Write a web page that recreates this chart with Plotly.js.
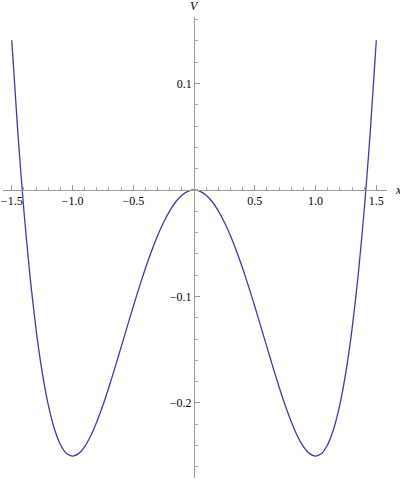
<!DOCTYPE html>
<html>
<head>
<meta charset="utf-8">
<script src="https://cdn.plot.ly/plotly-3.0.1.min.js"></script>
<style>
  html, body { margin: 0; padding: 0; background: #fff; }
  #plot { width: 400px; height: 480px; }
</style>
</head>
<body>
<div id="plot"></div>
<script>
// values (right half; the curve is mirrored about x = 0)
var xHalf = [0, 0.05, 0.1, 0.15, 0.2, 0.25, 0.3, 0.35, 0.4, 0.45, 0.5, 0.55, 0.6, 0.65, 0.7, 0.75,
             0.8, 0.85, 0.9, 0.95, 1.0, 1.05, 1.1, 1.15, 1.2, 1.25, 1.3, 1.35, 1.4, 1.45, 1.5];
var vHalf = [0, -0.0013, -0.0050, -0.0111, -0.0196, -0.0303, -0.0430, -0.0575, -0.0736, -0.0910, -0.1094, -0.1284, -0.1476, -0.1666, -0.1850, -0.2022,
             -0.2176, -0.2308, -0.2410, -0.2476, -0.25, -0.2474, -0.2390, -0.2240, -0.2016, -0.1709, -0.1310, -0.0809, -0.0196, 0.0539, 0.1406];

var xVals = xHalf.slice(1).reverse().map(function (v) { return -v; }).concat(xHalf);
var vVals = vHalf.slice(1).reverse().concat(vHalf);

var xTicks = [-1.5, -1.0, -0.5, 0.5, 1.0, 1.5];
var xTickText = ['\u22121.5', '\u22121.0', '\u22120.5', '0.5', '1.0', '1.5'];
var yTicks = [-0.2, -0.1, 0.1];
var yTickText = ['\u22120.2', '\u22120.1', '0.1'];

var xRange = [-1.572, 1.588];
var yRange = [-0.2705, 0.1624];

var trace = {
  x: xVals,
  y: vVals,
  mode: 'lines',
  type: 'scatter',
  line: { color: 'rgb(61,61,153)', width: 1.3, shape: 'spline', smoothing: 0.6 },
  hoverinfo: 'none'
};

var tickFont = { family: 'Liberation Serif, Times New Roman, serif', size: 12, color: '#000' };

var layout = {
  width: 400,
  height: 480,
  margin: { l: 3, r: 13, t: 17, b: 2 },
  paper_bgcolor: '#fff',
  plot_bgcolor: '#fff',
  showlegend: false,
  xaxis: {
    range: xRange,
    anchor: 'free',
    position: (0 - yRange[0]) / (yRange[1] - yRange[0]),
    showgrid: false,
    zeroline: false,
    showline: true,
    linecolor: '#999',
    linewidth: 1,
    ticks: 'inside',
    ticklen: 5,
    tickcolor: '#999',
    tickvals: xTicks,
    ticktext: xTickText,
    tickfont: tickFont,
    minor: { tickmode: 'linear', tick0: 0, dtick: 0.1, ticks: 'inside', ticklen: 3, tickcolor: '#aaa', showgrid: false }
  },
  yaxis: {
    range: yRange,
    anchor: 'free',
    position: (0 - xRange[0]) / (xRange[1] - xRange[0]),
    showgrid: false,
    zeroline: false,
    showline: true,
    linecolor: '#999',
    linewidth: 1,
    ticks: 'inside',
    ticklen: 5,
    tickcolor: '#999',
    tickvals: yTicks,
    ticktext: yTickText,
    tickfont: tickFont,
    minor: { tickmode: 'linear', tick0: 0, dtick: 0.02, ticks: 'inside', ticklen: 3, tickcolor: '#aaa', showgrid: false }
  },
  annotations: [
    { text: 'x', xref: 'paper', yref: 'y', x: 1, y: 0, xanchor: 'left', yanchor: 'middle', xshift: 6, showarrow: false,
      font: { family: 'Liberation Serif, serif', size: 12, color: '#000', style: 'italic' } },
    { text: 'V', xref: 'x', yref: 'paper', x: 0, y: 1, xanchor: 'center', yanchor: 'bottom', yshift: 2, showarrow: false,
      font: { family: 'Liberation Serif, serif', size: 12, color: '#000', style: 'italic' } }
  ]
};

Plotly.newPlot('plot', [trace], layout, { displayModeBar: false, staticPlot: true });
</script>
</body>
</html>
